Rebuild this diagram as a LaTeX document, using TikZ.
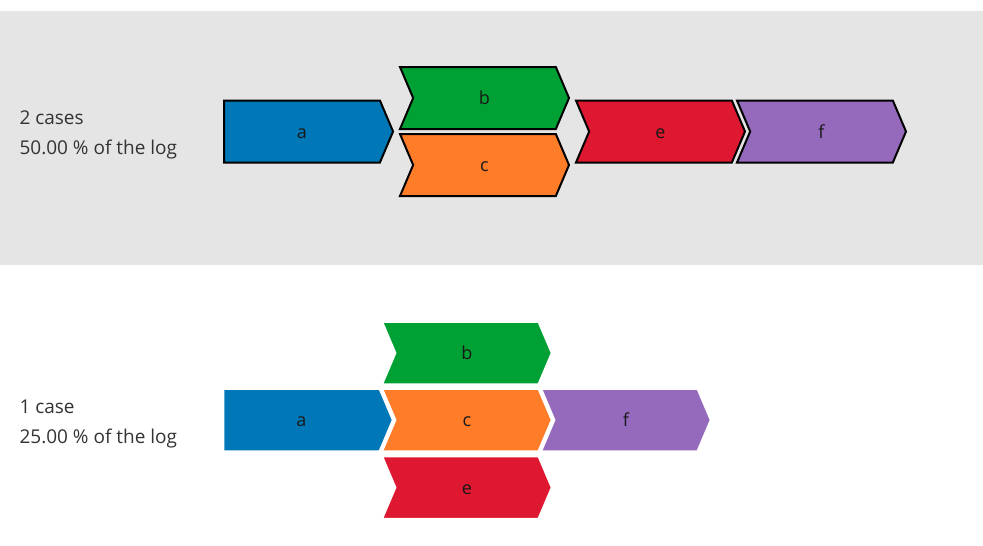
\documentclass[tikz,border=0pt]{standalone}
\usepackage{fontspec}
\setmainfont{Open Sans}
\usetikzlibrary{shapes.symbols}

\definecolor{bandgray}{RGB}{229,229,229}
\definecolor{actblue}{RGB}{0,119,182}
\definecolor{actgreen}{RGB}{0,161,52}
\definecolor{actorange}{RGB}{255,124,40}
\definecolor{actred}{RGB}{221,24,48}
\definecolor{actpurple}{RGB}{149,105,188}
\definecolor{infotext}{RGB}{51,51,51}

\begin{document}
\begin{tikzpicture}[x=1pt, y=-1pt,
    chevron/.style={shape=signal, signal to=east, signal from=west,
        signal pointer angle=134, minimum width=169pt, minimum height=62pt,
        inner sep=0pt, text height=13pt, text depth=0pt,
        text=black!90, font=\fontsize{18}{20}\selectfont},
    firstchevron/.style={chevron, signal from=nowhere},
    picked/.style={draw=black, line width=2pt},
    unpicked/.style={draw=white, line width=1.5pt},
    caseinfo/.style={anchor=west, align=left, text=infotext,
        font=\fontsize{19}{30}\selectfont}
    ]

    \useasboundingbox (0,0) rectangle (983,546);

    % first variant, selected
    \fill[bandgray] (0,11) rectangle (983,265);

    \node[caseinfo] (info1) at (16,135) {2 cases\\50.00 \% of the log};

    \node[firstchevron, picked, fill=actblue] (a1) at (302,131.5) {a};

    \node[chevron, picked, fill=actgreen] (b1) at (484.5,98) {b};

    \node[chevron, picked, fill=actorange] (c1) at (484.5,165) {c};

    \node[chevron, picked, fill=actred] (e1) at (660.5,131.5) {e};

    \node[chevron, picked, fill=actpurple] (f1) at (821.5,131.5) {f};

    % second variant
    \node[caseinfo] (info2) at (16,424) {1 case\\25.00 \% of the log};

    \node[chevron, unpicked, fill=actgreen] (b2) at (467,353) {b};

    \node[firstchevron, unpicked, fill=actblue] (a2) at (301.5,420) {a};

    \node[chevron, unpicked, fill=actorange] (c2) at (467,420) {c};

    \node[chevron, unpicked, fill=actpurple] (f2) at (626,420) {f};

    \node[chevron, unpicked, fill=actred] (e2) at (467,487.5) {e};

\end{tikzpicture}
\end{document}
